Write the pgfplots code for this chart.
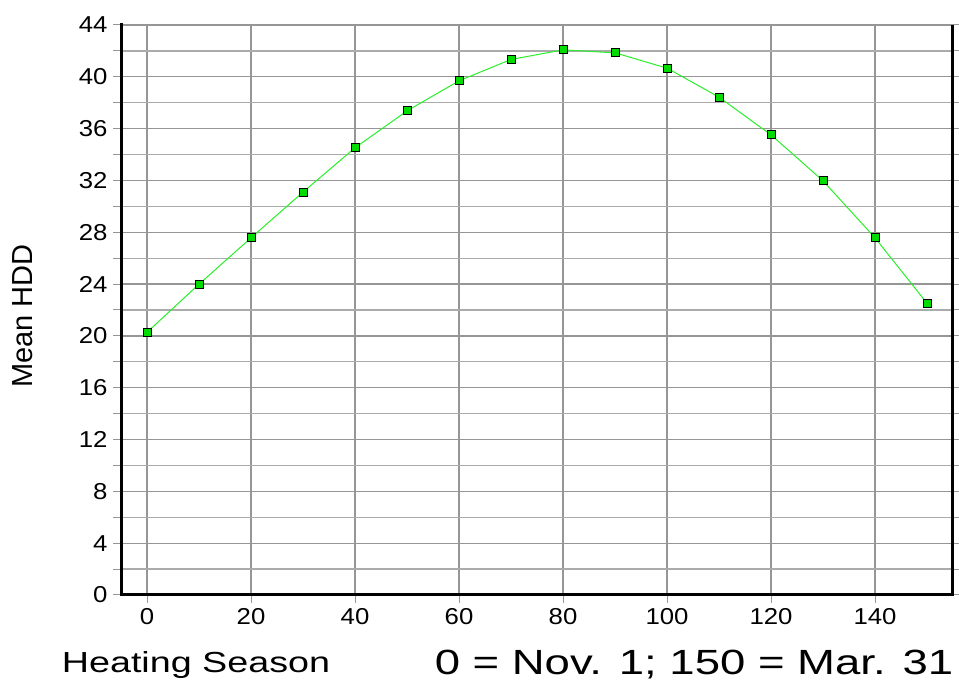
\documentclass[border=0pt]{standalone}
\usepackage{fontspec}
\setmainfont{Liberation Sans}
\newfontfamily\tickfont{Liberation Sans}[FakeStretch=1.12]
\newfontfamily\widefont{Liberation Sans}[FakeStretch=1.3]
\usepackage{pgfplots}
\pgfplotsset{compat=1.18}
\definecolor{gridgray}{RGB}{150,150,150}
\definecolor{linegreen}{RGB}{40,240,40}
\definecolor{markgreen}{RGB}{0,220,0}

\begin{document}
\begin{tikzpicture}
\path[use as bounding box] (0,0) rectangle (959pt,682pt);
\begin{axis}[
    at={(121pt,87pt)}, anchor=south west,
    scale only axis,
    width=831pt, height=570pt,
    xmin=-5, xmax=154.8,
    ymin=0, ymax=44,
    axis x line*=bottom, axis y line*=box,
    axis line style={black, line width=3pt},
    xtick={0,20,...,140},
    ytick={0,4,...,44},
    minor ytick={2,6,...,42},
    grid=both,
    major grid style={gridgray, line width=1.2pt},
    minor grid style={gridgray!80, line width=1.2pt},
    tick align=outside,
    major tick length=8pt, minor tick length=8pt,
    tick style={gridgray, line width=1pt},
    /pgf/number format/assume math mode=true,
    ticklabel style={font=\tickfont\fontsize{23}{23}\selectfont},
    yticklabel style={xshift=-2pt},
    xticklabel style={yshift=-2pt},
    clip=false,
]
\addplot[linegreen, line width=1pt, mark=square*, mark size=4pt,
    mark options={fill=markgreen, draw=black, line width=1pt}] coordinates {
    (0,20.28) (10,23.99) (20,27.57) (30,31.1) (40,34.52) (50,37.37)
    (60,39.69) (70,41.34) (80,42.08) (90,41.85) (100,40.67) (110,38.43)
    (120,35.52) (130,31.97) (140,27.57) (150,22.52)
};
% spines drawn over the grid
\draw[black, line width=3pt, line cap=rect] (rel axis cs:0,1) -- (rel axis cs:0,0) -- (rel axis cs:1,0);
\draw[black, line width=2pt] (rel axis cs:1,0) -- (rel axis cs:1,1);
\end{axis}
\node[rotate=90, anchor=center, font=\fontsize{29}{29}\selectfont] at (23pt,366pt) {Mean HDD};
\node[anchor=base, font=\widefont\fontsize{29}{29}\selectfont, inner sep=0pt] at (196pt,9pt) {Heating Season};
\node[anchor=base, font=\widefont\fontsize{35}{35}\selectfont, inner sep=0pt] at (694pt,7pt) {0 = Nov. 1; 150 = Mar. 31};
\end{tikzpicture}
\end{document}
